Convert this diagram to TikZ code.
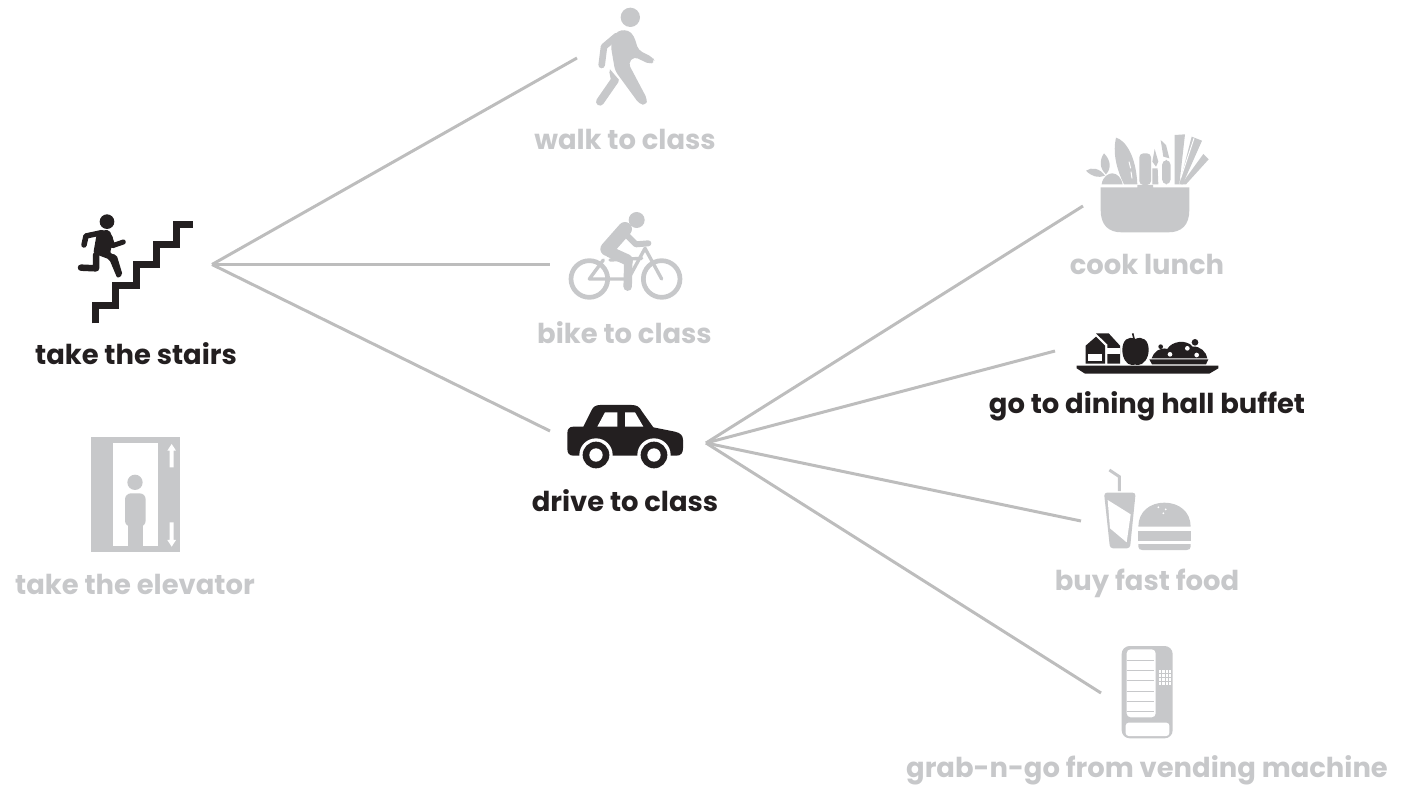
\documentclass[tikz,border=0pt]{standalone}
\usepackage{fontspec}
\setmainfont{Poppins}
\definecolor{inkblack}{HTML}{231F20}
\definecolor{icongray}{HTML}{C7C8CA}
\definecolor{linegray}{HTML}{BDBDBD}
\tikzset{
    label/.style={anchor=base,font=\bfseries\fontsize{27.4}{30}\selectfont,inner sep=0pt},
    choicetext/.style={label,text=inkblack},
    fadedtext/.style={label,text=icongray},
    branch/.style={linegray,line width=3pt},
    limb/.style={line cap=round,line join=round},
}
\begin{document}
\begin{tikzpicture}[x=1pt,y=-1pt]
    \useasboundingbox (0,0) rectangle (1409,786);
    % connector ends
    \coordinate (stairsHub) at (212,264.5);
    \coordinate (driveHub) at (706,443);
    \coordinate (walkEnd) at (577,58);
    \coordinate (bikeEnd) at (550,264.5);
    \coordinate (driveEnd) at (550,431);
    \coordinate (cookEnd) at (1083,206);
    \coordinate (buffetEnd) at (1055,351);
    \coordinate (fastEnd) at (1081,521);
    \coordinate (vendEnd) at (1101,693);
    \draw[branch] (stairsHub) -- (walkEnd);
    \draw[branch] (stairsHub) -- (bikeEnd);
    \draw[branch] (stairsHub) -- (driveEnd);
    \draw[branch] (driveHub) -- (cookEnd);
    \draw[branch] (driveHub) -- (buffetEnd);
    \draw[branch] (driveHub) -- (fastEnd);
    \draw[branch] (driveHub) -- (vendEnd);
    % labels
    \node[choicetext] (stairsLabel) at (136,364.5) {take the stairs};
    \node[fadedtext] (elevatorLabel) at (135,594.5) {take the elevator};
    \node[fadedtext] (walkLabel) at (625,149.5) {walk to class};
    \node[fadedtext] (bikeLabel) at (624.5,343.5) {bike to class};
    \node[choicetext] (driveLabel) at (625,511.5) {drive to class};
    \node[fadedtext] (cookLabel) at (1147,274.5) {cook lunch};
    \node[choicetext] (buffetLabel) at (1147,413.5) {go to dining hall buffet};
    \node[fadedtext] (fastLabel) at (1147,590.5) {buy fast food};
    \node[fadedtext] (vendLabel) at (1147,777.5) {grab-n-go from vending machine};
    % stairs
    \begin{scope}[shift={(60,200)},scale=1/3]
        \draw[inkblack,line width=7pt,line join=miter]
            (105,370) -- (105,318) -- (167,318) -- (167,257) -- (228,257)
            -- (228,195) -- (288,195) -- (288,135) -- (350,135) -- (350,73) -- (400,73);
        \fill[inkblack] (141,65) circle (22);
        \draw[inkblack,limb,line width=5.5pt] (72,135) -- (78,108) -- (125,98);
        \draw[inkblack,limb,line width=5pt] (150,112) -- (158,137) -- (190,126);
        \draw[inkblack,limb,line width=6.5pt] (108,165) -- (108,205) -- (63,203);
        \fill[inkblack,rounded corners=2pt] (112,92) -- (148,90) -- (160,118) -- (150,160) -- (170,165) -- (188,225) -- (172,235) -- (148,178) -- (100,160) -- (106,125) -- cycle;
    \end{scope}
    % elevator
    \begin{scope}[shift={(80,430)},scale=1/3]
        \fill[icongray] (32,22) rectangle (300,365);
        \fill[white] (98,38) rectangle (233,348);
        \fill[icongray] (165,157) circle (23);
        \fill[icongray,rounded corners=6pt] (135,290) -- (135,190) -- (197,190) -- (197,290) -- cycle;
        \fill[icongray] (145,270) rectangle (188,348);
        \fill[white] (269,112) -- (269,62) -- (262,62) -- (275,42) -- (288,62) -- (281,62) -- (281,112) -- cycle;
        \fill[white] (269,277) -- (269,330) -- (262,330) -- (275,350) -- (288,330) -- (281,330) -- (281,277) -- cycle;
    \end{scope}
    % walker
    \begin{scope}[shift={(560,0)},scale=1/3]
        \fill[icongray] (211,52) circle (29);
        \draw[icongray,limb,line width=6.6pt] (170,108) -- (132,140) -- (125,195);
        \draw[icongray,limb,line width=8pt] (160,215) -- (165,240) -- (120,305);
        \fill[white] (148,205) -- (178,240) -- (195,220) -- (170,195) -- cycle;
        \fill[icongray,rounded corners=4pt]
            (172,92) -- (205,90) -- (222,108) -- (235,150) -- (278,172) -- (285,185) -- (270,193)
            -- (222,170) -- (205,190) -- (262,298) -- (258,316) -- (238,312) -- (165,212) -- (152,135) -- cycle;
    \end{scope}
    % bike
    \begin{scope}[shift={(560,205)},scale=1/3]
        \draw[icongray,line width=4.7pt] (88,222) circle (55);
        \draw[icongray,line width=4.7pt] (305,222) circle (55);
        \draw[icongray,limb,line width=3.4pt]
            (130,165) -- (88,222) -- (205,222) -- (255,130) -- (305,222);
        \draw[icongray,limb,line width=3.4pt] (150,165) -- (245,160);
        \draw[icongray,limb,line width=4.5pt] (240,115) -- (265,115);
        \fill[icongray] (230,45) circle (24);
        \draw[icongray,limb,line width=14pt] (195,72) -- (142,132);
        \draw[icongray,limb,line width=6pt] (195,85) -- (228,118) -- (265,115);
        \draw[icongray,limb,line width=11pt] (148,140) -- (203,165);
        \draw[icongray,limb,line width=8.5pt] (205,165) -- (203,245);
    \end{scope}
    % car
    \begin{scope}[shift={(560,395)},scale=1/3]
        \fill[inkblack]
            (22,115) .. controls (22,102) and (28,95) .. (40,95) -- (70,95) -- (95,45)
            .. controls (100,35) and (108,30) .. (120,30) -- (215,30)
            .. controls (230,30) and (238,35) .. (245,48) -- (280,97) -- (345,110)
            .. controls (362,114) and (369,122) .. (369,135) -- (369,160)
            .. controls (369,175) and (362,182) .. (349,182) -- (40,182)
            .. controls (28,182) and (22,175) .. (22,162) -- cycle;
        \fill[white] (108,180) circle (50);
        \fill[white] (282,180) circle (50);
        \fill[white] (61,183) rectangle (155,235);
        \fill[white] (235,183) rectangle (329,235);
        \fill[inkblack] (108,180) circle (40);
        \fill[inkblack] (282,180) circle (40);
        \fill[white] (108,180) circle (20);
        \fill[white] (282,180) circle (20);
        \fill[white] (112,95) -- (135,52) -- (172,52) -- (172,95) -- cycle;
        \fill[white] (195,52) -- (225,52) -- (250,95) -- (195,95) -- cycle;
    \end{scope}
    % basket
    \begin{scope}[shift={(1080,125)},scale=1/3]
        \fill[icongray] (62,187) -- (172,187) -- (172,180) -- (219,180) -- (219,187) -- (328,187) -- (328,255)
            .. controls (328,300) and (305,322) .. (265,322) -- (125,322)
            .. controls (85,322) and (62,300) .. (62,255) -- cycle;
        \fill[icongray,rounded corners=4pt] (178,180) -- (178,85) -- (213,85) -- (213,180) -- cycle;
        \fill[icongray] (18,137) .. controls (35,125) and (60,130) .. (75,152) .. controls (55,160) and (35,155) .. (18,137) -- cycle;
        \fill[icongray] (72,85) .. controls (58,105) and (58,130) .. (78,148) .. controls (95,130) and (92,105) .. (72,85) -- cycle;
        \fill[icongray] (65,178) .. controls (68,155) and (85,145) .. (97,145) .. controls (112,145) and (125,160) .. (128,178) -- cycle;
        \fill[icongray] (108,38) .. controls (135,45) and (168,90) .. (172,178) -- (132,178)
            .. controls (108,130) and (98,80) .. (108,38) -- cycle;
        \draw[white,line width=1pt] (147,110) -- (152,130);
        \draw[white,line width=1pt] (153,140) -- (156,160);
        \fill[icongray] (217,178) -- (217,130) -- (233,130) -- (235,178) -- cycle;
        \fill[icongray] (224,72) -- (235,110) -- (228,125) -- (217,110) -- cycle;
        \fill[icongray,rounded corners=5pt] (246,178) -- (246,105) -- (272,105) -- (272,178) -- cycle;
        \fill[icongray] (242,45) -- (258,60) -- (268,100) -- (250,95) -- cycle;
        \fill[icongray] (284,30) -- (315,28) -- (298,178) -- (284,178) -- cycle;
        \fill[icongray] (335,35) -- (366,47) -- (308,178) -- (298,178) -- cycle;
        \draw[white,line width=1pt] (342,40) -- (302,160);
        \fill[icongray] (370,87) -- (386,103) -- (318,178) -- (304,178) -- cycle;
    \end{scope}
    % buffet tray
    \begin{scope}[shift={(1070,325)},scale=1/3]
        \fill[inkblack] (20,122) -- (445,122) -- (445,130) -- (418,146) -- (45,146) -- (20,130) -- cycle;
        \fill[inkblack] (47,116) -- (47,62) -- (78,35) -- (105,62) -- (105,116) -- cycle;
        \fill[inkblack] (78,25) -- (116,25) -- (150,62) -- (150,116) -- (112,116) -- (112,58) -- (88,35) -- cycle;
        \fill[white] (55,88) rectangle (97,108);
        \fill[white] (112,70) rectangle (150,88);
        \fill[inkblack] (195,42) .. controls (218,32) and (236,45) .. (236,75)
            .. controls (236,100) and (220,120) .. (205,120) .. controls (198,120) and (192,117) .. (186,120)
            .. controls (170,120) and (157,100) .. (157,75) .. controls (157,45) and (175,32) .. (195,42) -- cycle;
        \draw[inkblack,line width=1.6pt] (193,45) -- (188,25);
        \fill[inkblack] (238,103) -- (415,103) -- (408,118) -- (246,118) -- cycle;
        \fill[inkblack] (245,100) .. controls (250,82) and (270,65) .. (292,72)
            .. controls (305,48) and (350,42) .. (368,65) .. controls (390,62) and (410,82) .. (412,100) -- cycle;
        \fill[inkblack] (272,65) circle (7);
        \fill[inkblack] (375,52) circle (10);
        \fill[white] (300,88) circle (7);
        \fill[white] (352,70) circle (7);
        \fill[white] (380,90) circle (7);
    \end{scope}
    % fast food
    \begin{scope}[shift={(1095,465)},scale=1/3]
        \draw[icongray,line width=3pt] (43,15) -- (73,35) -- (73,78);
        \fill[icongray,rounded corners=3pt] (27,83) -- (122,83) -- (105,250) -- (45,250) -- cycle;
        \fill[white] (38,105) -- (107,148) -- (95,232) -- (45,190) -- cycle;
        \fill[icongray] (130,185) .. controls (130,140) and (165,113) .. (208,113)
            .. controls (252,113) and (287,140) .. (287,185) -- cycle;
        \fill[icongray] (130,198) rectangle (287,227);
        \fill[icongray] (130,237) -- (287,237) -- (287,245) .. controls (287,252) and (282,255) .. (275,255)
            -- (142,255) .. controls (135,255) and (130,252) .. (130,245) -- cycle;
        \fill[white] (190,127) circle (3);
        \fill[white] (212,133) circle (3);
        \fill[white] (205,145) circle (3);
    \end{scope}
    % vending machine
    \begin{scope}[shift={(1110,640)},scale=1/3]
        \fill[icongray,rounded corners=8pt] (35,18) rectangle (188,295);
        \fill[white,rounded corners=4pt] (50,28) rectangle (137,232);
        \fill[white,rounded corners=3pt] (47,248) rectangle (178,288);
        \foreach \rowy in {60,90,122,153,184,215}
            \draw[icongray,line width=0.7pt] (50,\rowy) -- (132,\rowy);
        \foreach \keyx in {150,160,170,180}
            \foreach \keyy in {95,107,119,131}
                \fill[white] (\keyx-3.5,\keyy-4) rectangle (\keyx+3.5,\keyy+4);
    \end{scope}
\end{tikzpicture}
\end{document}
